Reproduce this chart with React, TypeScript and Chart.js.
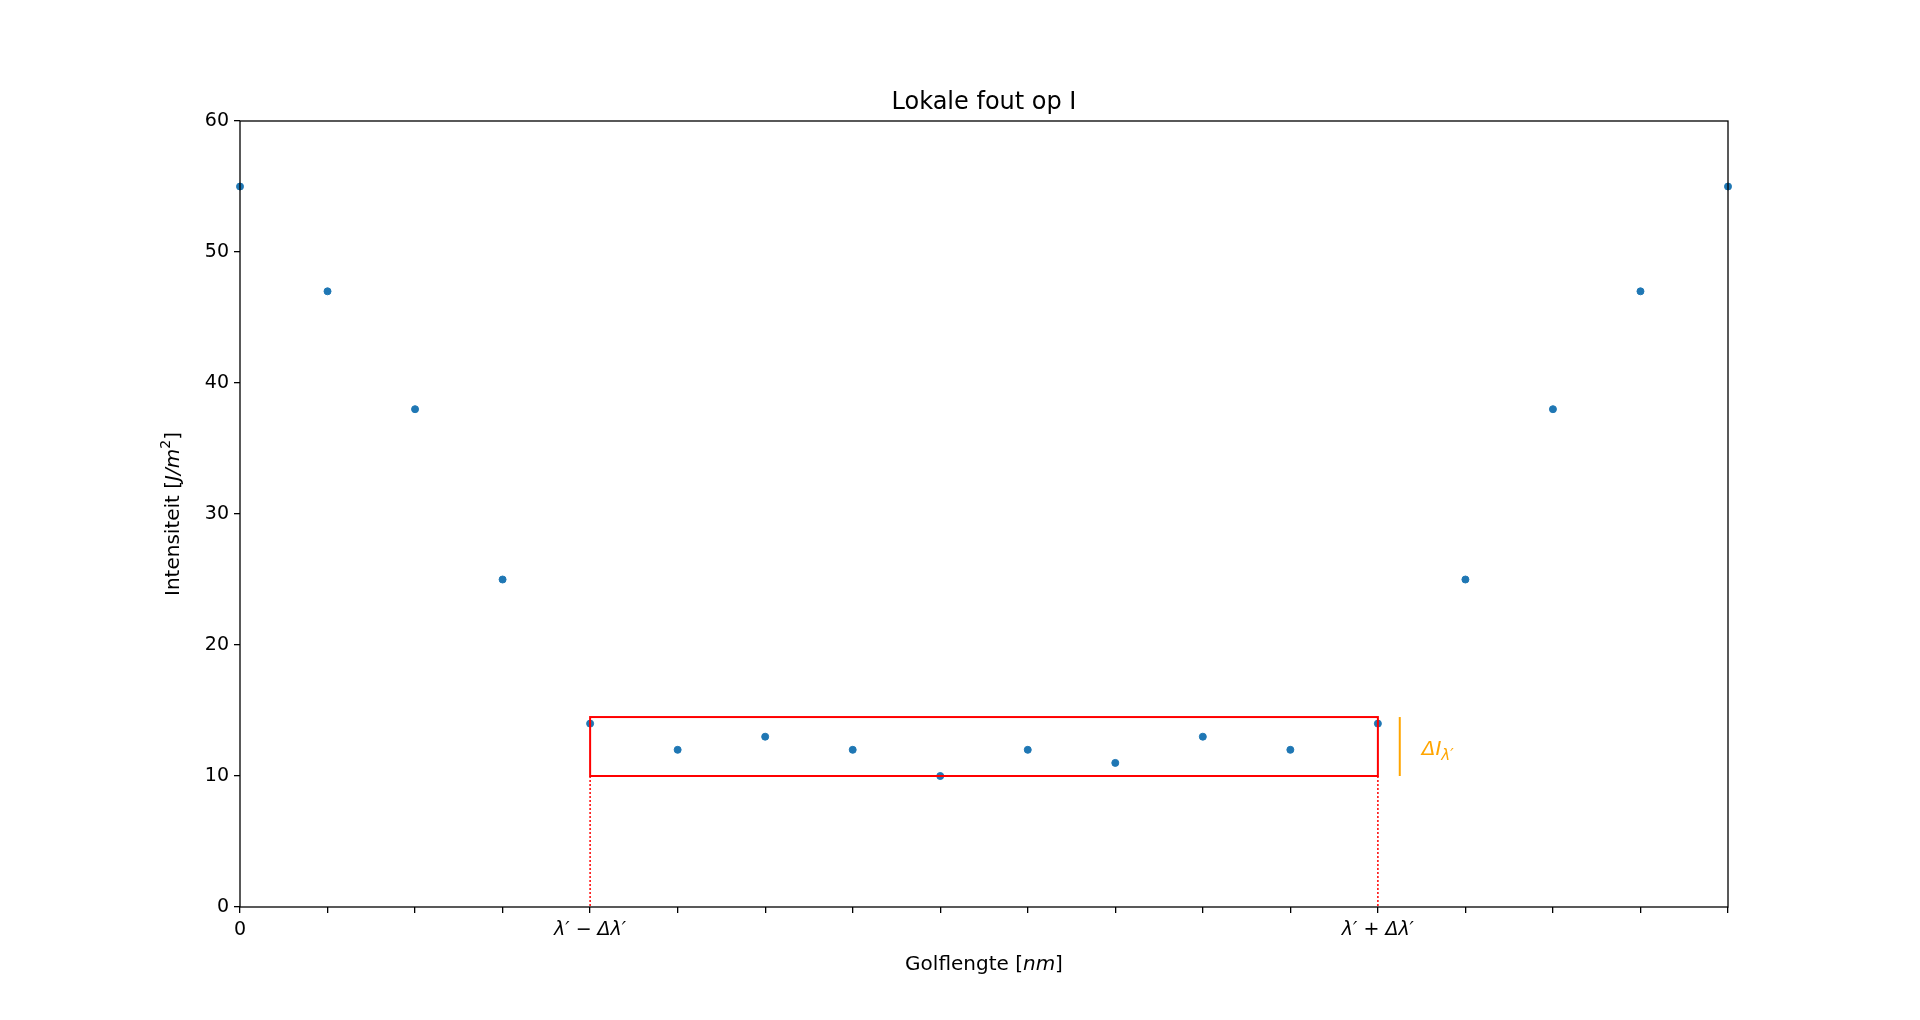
import React, { useEffect, useRef } from "react";
import { Chart, registerables } from "chart.js";
Chart.register(...registerables);

const xValues = [0, 1, 2, 3, 4, 5, 6, 7, 8, 9, 10, 11, 12, 13, 14, 15, 16, 17];
const yValues = [55, 47, 38, 25, 14, 12, 13, 12, 10, 12, 11, 13, 12, 14, 25, 38, 47, 55];
const tickLabels: Record<number, string> = { 0: "0", 4: "λ′ − Δλ′", 13: "λ′ + Δλ′" };
const boxX = [4, 13];
const boxY = [10, 14.5];
const orangeX = 13.25;
const FONT = "DejaVu Sans";

export default function App() {
  const ref = useRef<HTMLCanvasElement>(null);
  useEffect(() => {
    document.body.style.margin = "0";
    const overlay = {
      id: "overlay",
      afterDatasetsDraw(chart: any) {
        const { ctx, chartArea: a, scales } = chart;
        const x = scales.x, y = scales.y;
        ctx.save();
        ctx.strokeStyle = "#ff0000";
        ctx.lineWidth = 2;
        const x0 = x.getPixelForValue(boxX[0]), x1 = x.getPixelForValue(boxX[1]);
        const y0 = y.getPixelForValue(boxY[0]), y1 = y.getPixelForValue(boxY[1]);
        ctx.strokeRect(x0, y1, x1 - x0, y0 - y1);
        ctx.setLineDash([2, 2]);
        ctx.lineWidth = 1.5;
        for (const xx of [x0, x1]) {
          ctx.beginPath(); ctx.moveTo(xx, y0); ctx.lineTo(xx, y.getPixelForValue(0)); ctx.stroke();
        }
        ctx.setLineDash([]);
        ctx.strokeStyle = "#ffa500";
        ctx.lineWidth = 2;
        const ox = x.getPixelForValue(orangeX);
        ctx.beginPath(); ctx.moveTo(ox, y0); ctx.lineTo(ox, y1); ctx.stroke();
        ctx.fillStyle = "#ffa500";
        ctx.textBaseline = "middle";
        ctx.textAlign = "left";
        const ty = y.getPixelForValue(12);
        ctx.font = `italic 20px ${FONT}`;
        ctx.fillText("ΔI", ox + 22, ty);
        const w = ctx.measureText("ΔI").width;
        ctx.font = `italic 15px ${FONT}`;
        ctx.fillText("λ′", ox + 22 + w, ty + 6);
        ctx.strokeStyle = "#000";
        ctx.lineWidth = 1.3;
        ctx.strokeRect(a.left, a.top, a.right - a.left, a.bottom - a.top);
        ctx.fillStyle = "#000";
        ctx.textAlign = "center";
        ctx.font = `24px ${FONT}`;
        ctx.fillText("Lokale fout op I", (a.left + a.right) / 2, 103);
        const F = 20;
        ctx.font = `${F}px ${FONT}`;
        const p1 = "Golflengte [", p2 = "nm", p3 = "]";
        ctx.textAlign = "left";
        const w1 = ctx.measureText(p1).width, w3 = ctx.measureText(p3).width;
        ctx.font = `italic ${F}px ${FONT}`;
        const w2 = ctx.measureText(p2).width;
        const sx = (a.left + a.right) / 2 - (w1 + w2 + w3) / 2;
        const xy = 965;
        ctx.font = `${F}px ${FONT}`; ctx.fillText(p1, sx, xy);
        ctx.font = `italic ${F}px ${FONT}`; ctx.fillText(p2, sx + w1, xy);
        ctx.font = `${F}px ${FONT}`; ctx.fillText(p3, sx + w1 + w2, xy);
        ctx.translate(174, (a.top + a.bottom) / 2);
        ctx.rotate(-Math.PI / 2);
        const q1 = "Intensiteit [", q2 = "J/m", q4 = "]";
        ctx.font = `${F}px ${FONT}`;
        const v1 = ctx.measureText(q1).width, v4 = ctx.measureText(q4).width;
        ctx.font = `italic ${F}px ${FONT}`;
        const v2 = ctx.measureText(q2).width;
        ctx.font = `14px ${FONT}`;
        const v3 = ctx.measureText("2").width;
        const s = -(v1 + v2 + v3 + v4) / 2;
        ctx.font = `${F}px ${FONT}`; ctx.fillText(q1, s, 0);
        ctx.font = `italic ${F}px ${FONT}`; ctx.fillText(q2, s + v1, 0);
        ctx.font = `14px ${FONT}`; ctx.fillText("2", s + v1 + v2, -8);
        ctx.font = `${F}px ${FONT}`; ctx.fillText(q4, s + v1 + v2 + v3, 0);
        ctx.restore();
      },
    };
    const chart = new Chart(ref.current!, {
      type: "scatter",
      data: {
        datasets: [{
          data: xValues.map((v, i) => ({ x: v, y: yValues[i] })),
          backgroundColor: "#1f77b4",
          borderColor: "#1f77b4",
          pointRadius: 3.5,
          clip: false as any,
        }],
      },
      options: {
        animation: false,
        responsive: false,
        layout: { padding: { left: 180, right: 192, top: 121, bottom: 53 } },
        plugins: { legend: { display: false }, tooltip: { enabled: false } },
        scales: {
          x: {
            type: "linear", min: 0, max: 17,
            afterFit: (s: any) => { s.height = 60; },
            afterBuildTicks: (s: any) => { s.ticks = xValues.map((v) => ({ value: v })); },
            grid: { drawOnChartArea: false, drawTicks: true, tickLength: 6, color: "#000", lineWidth: 1.3 },
            border: { display: false },
            ticks: {
              autoSkip: false, maxRotation: 0, color: "#000", padding: 6,
              font: (c: any) => ({ family: FONT, size: 19, style: c.tick && c.tick.value === 0 ? "normal" : "italic" }),
              callback: (v: any) => tickLabels[v as number] ?? "",
            },
          },
          y: {
            min: 0, max: 60,
            afterFit: (s: any) => { s.width = 60; },
            grid: { drawOnChartArea: false, drawTicks: true, tickLength: 6, color: "#000", lineWidth: 1.3 },
            border: { display: false },
            ticks: { stepSize: 10, color: "#000", padding: 5, font: { family: FONT, size: 19 } },
          },
        },
      },
      plugins: [overlay],
    });
    return () => chart.destroy();
  }, []);
  return <canvas ref={ref} width={1920} height={1020} style={{ display: "block" }} />;
}
